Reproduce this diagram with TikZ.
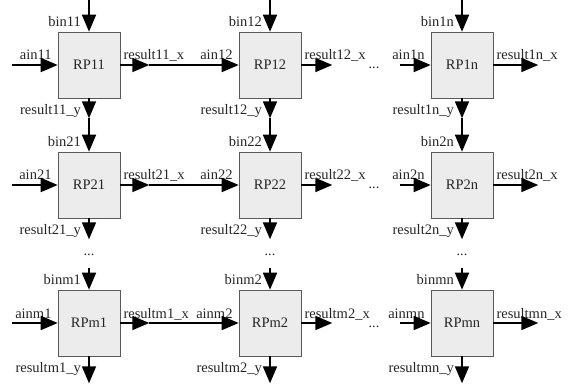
\documentclass[tikz,border=0pt]{standalone}
\usepackage{fontspec}
\setmainfont{Liberation Serif}
\usetikzlibrary{arrows.meta,positioning,calc}

\tikzset{
  pe/.style={draw=gray!70!black,fill=gray!15,line width=0.6pt,minimum width=62pt,minimum height=66pt,inner sep=0pt},
  sig/.style={line width=1.8pt,-{Triangle[length=17pt,width=14pt]}},
  lbl/.style={inner sep=0pt,font=\fontsize{14.5}{17}\selectfont,text=black!85},
}

\begin{document}
\begin{tikzpicture}[x=1pt,y=-1pt]
\useasboundingbox (0,0) rectangle (571,385);

% array of processing elements and their port names
\foreach \i/\Y in {1/65,2/185,m/323}
  \foreach \j/\X in {1/89,2/270,n/462}{
    \node[pe,lbl] (rp\i\j) at (\X,\Y) {RP\i\j};
    \node[lbl,anchor=base east] (bin\i\j) at ($(rp\i\j.north)+(-8,-5)$) {bin\i\j};
    \node[lbl,anchor=base east] (ain\i\j) at ($(rp\i\j.west)+(-6,-5)$) {ain\i\j};
    \node[lbl,anchor=base west] (rx\i\j) at ($(rp\i\j.east)+(3,-5)$) {result\i\j\_x};
    \node[lbl,anchor=base east] (ry\i\j) at ($(rp\i\j.south)+(-8,16)$) {result\i\j\_y};
  }

% horizontal data flow
\foreach \i/\Y in {1/65,2/185,m/323}{
  \coordinate (in\i) at (12,\Y);
  \coordinate (ox\i1) at ($(rp\i1.east)+(29,0)$);
  \coordinate (ox\i2) at ($(rp\i2.east)+(31,0)$);
  \coordinate (inn\i) at (400,\Y);
  \coordinate (oxn\i) at ($(rp\i n.east)+(45,0)$);
  \draw[sig] (in\i) -- (rp\i1.west);
  \draw[sig] (rp\i1.east) -- (ox\i1);
  \draw[sig] (ox\i1) -- (rp\i2.west);
  \draw[sig] (rp\i2.east) -- (ox\i2);
  \node[lbl,anchor=base] (hd\i) at (374,\Y+4) {...};
  \draw[sig] (inn\i) -- (rp\i n.west);
  \draw[sig] (rp\i n.east) -- (oxn\i);
}

% vertical data flow
\foreach \j/\X in {1/89,2/270,n/462}{
  \coordinate (top\j) at (\X,0);
  \coordinate (oy1\j) at ($(rp1\j.south)+(0,20)$);
  \coordinate (oy2\j) at ($(rp2\j.south)+(0,21)$);
  \coordinate (inm\j) at (\X,268);
  \coordinate (oym\j) at ($(rpm\j.south)+(0,27)$);
  \draw[sig] (top\j) -- (rp1\j.north);
  \draw[sig] (rp1\j.south) -- (oy1\j);
  \draw[sig] (oy1\j) -- (rp2\j.north);
  \draw[sig] (rp2\j.south) -- (oy2\j);
  \node[lbl,anchor=base] (vd\j) at (\X,255) {...};
  \draw[sig] (inm\j) -- (rpm\j.north);
  \draw[sig] (rpm\j.south) -- (oym\j);
}
\end{tikzpicture}
\end{document}
